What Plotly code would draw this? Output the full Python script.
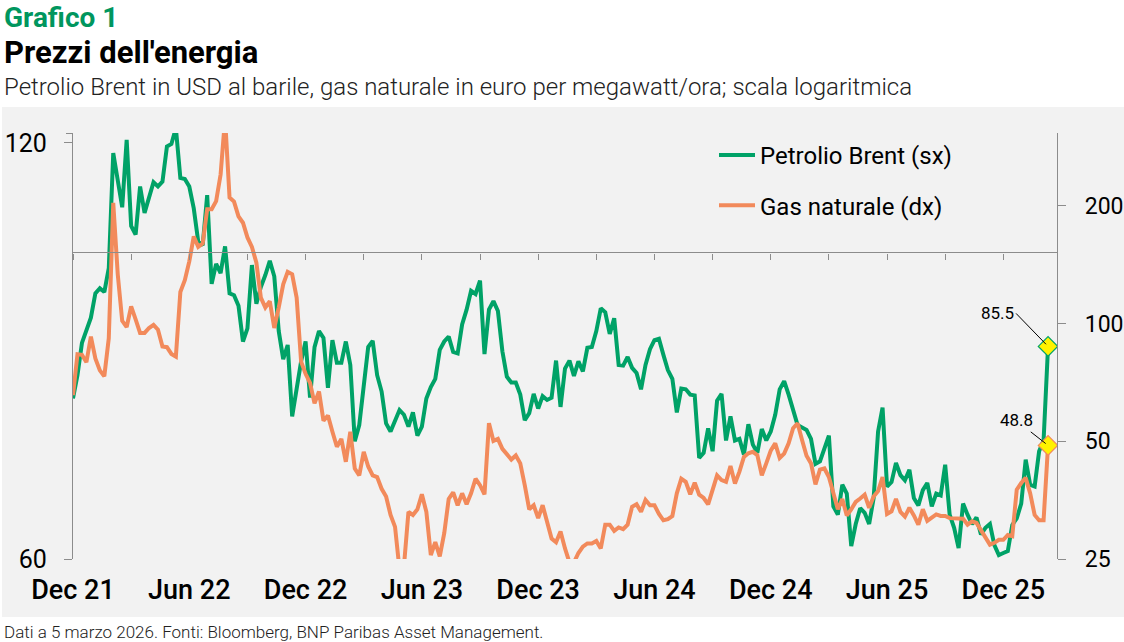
import numpy as np
import pandas as pd
import plotly.graph_objects as go

# ---------------- data (weekly, Thursdays) ----------------
dates = pd.date_range("2021-12-30", periods=219, freq="7D")

brent = [
    78.4, 81.5, 86.0, 88.0, 89.7, 93.4, 94.2, 93.6, 97.4, 118.0,
    112.2, 107.8, 120.6, 104.5, 103.0, 111.6, 106.8, 109.6, 112.4, 111.6,
    112.5, 119.3, 119.8, 123.0, 113.2, 113.0, 111.6, 107.6, 101.8, 101.2,
    110.0, 94.9, 98.1, 96.6, 101.0, 93.4, 93.1, 91.5, 86.2, 88.1,
    97.9, 91.8, 94.4, 96.3, 98.6, 96.1, 87.7, 83.7, 85.7, 76.1,
    79.7, 83.4, 86.2, 78.5, 85.4, 87.7, 86.7, 79.8, 86.4, 83.2,
    83.2, 86.2, 82.9, 73.0, 75.0, 80.6, 85.4, 86.3, 81.5, 79.3,
    75.2, 74.2, 75.4, 76.9, 76.3, 74.8, 76.6, 73.7, 74.8, 78.4,
    79.9, 81.0, 85.0, 86.2, 86.9, 84.7, 84.5, 88.7, 90.9, 93.8,
    93.3, 95.4, 84.4, 90.9, 92.2, 90.7, 84.8, 81.3, 80.5, 80.5,
    78.9, 75.6, 76.5, 79.0, 77.1, 78.7, 78.2, 78.5, 83.5, 77.3,
    82.4, 83.5, 81.4, 83.4, 82.0, 85.3, 85.4, 87.7, 91.1, 90.5,
    87.3, 89.6, 82.9, 82.8, 84.0, 82.5, 81.8, 79.6, 82.9, 85.1,
    86.4, 86.6, 84.3, 82.2, 81.0, 76.6, 79.7, 79.6, 78.9, 78.8,
    71.0, 71.6, 74.6, 71.8, 78.1, 79.0, 73.1, 76.1, 73.1, 73.3,
    71.4, 75.1, 72.6, 71.6, 74.5, 73.1, 74.2, 76.3, 79.6, 80.7,
    78.9, 77.0, 75.0, 74.7, 74.4, 73.3, 70.3, 70.6, 72.0, 73.7,
    65.5, 64.6, 67.9, 66.9, 61.3, 63.6, 65.3, 64.8, 63.6, 66.4,
    74.2, 77.2, 67.7, 68.2, 70.4, 69.0, 68.4, 69.6, 66.4, 65.6,
    67.3, 68.1, 65.5, 66.9, 66.7, 70.2, 64.6, 63.2, 61.1, 65.8,
    64.6, 63.6, 64.3, 62.5, 63.2, 63.6, 61.4, 60.4, 60.6, 60.8,
    63.5, 64.2, 65.8, 70.8, 67.9, 67.7, 71.8, 73.1, 85.5,
]

gas = [
    65.6, 83.5, 83.2, 79.6, 92.6, 81.4, 75.9, 73.3, 91.7, 203.6,
    133.8, 101.6, 98.0, 110.6, 102.5, 94.6, 94.6, 97.4, 99.2, 96.4,
    87.4, 87.0, 83.6, 82.3, 120.4, 129.0, 144.2, 167.0, 157.0, 160.3,
    196.0, 196.0, 205.5, 240.5, 335.0, 209.9, 205.0, 188.0, 181.0, 166.0,
    157.0, 143.0, 116.5, 109.9, 114.0, 97.4, 110.0, 126.0, 135.5, 133.6,
    116.5, 79.9, 74.4, 70.5, 62.5, 67.0, 56.4, 58.2, 52.9, 48.4,
    50.7, 44.3, 52.9, 42.6, 40.9, 47.0, 43.1, 40.9, 40.5, 37.8,
    36.1, 32.4, 30.2, 23.5, 24.0, 33.0, 32.4, 33.5, 36.6, 33.0,
    25.6, 27.6, 25.4, 29.1, 35.6, 37.0, 34.3, 36.8, 34.5, 36.8,
    40.1, 38.6, 36.6, 55.6, 50.1, 50.7, 47.8, 46.4, 44.9, 46.0,
    43.9, 38.6, 33.5, 34.3, 31.8, 34.3, 31.2, 28.2, 27.6, 29.4,
    26.6, 24.5, 24.5, 25.9, 26.9, 27.4, 27.4, 27.8, 26.6, 30.6,
    30.6, 29.5, 30.1, 29.8, 30.6, 34.0, 34.5, 33.0, 35.4, 34.3,
    34.3, 32.6, 31.4, 31.6, 32.2, 36.8, 40.1, 39.4, 36.6, 39.2,
    36.5, 35.8, 34.5, 37.6, 40.9, 39.8, 39.4, 43.2, 39.0, 41.8,
    45.6, 46.6, 47.0, 46.1, 40.9, 43.9, 47.3, 49.4, 45.3, 46.5,
    49.4, 54.0, 55.6, 50.4, 45.9, 43.9, 38.8, 42.3, 42.6, 40.5,
    36.8, 33.5, 35.6, 32.3, 33.5, 35.0, 35.7, 36.5, 33.8, 36.1,
    37.3, 40.5, 32.6, 33.1, 35.6, 33.0, 32.1, 33.8, 32.3, 30.6,
    33.5, 31.3, 31.9, 32.5, 32.2, 32.2, 31.8, 31.8, 31.8, 31.7,
    30.6, 31.2, 30.9, 29.7, 28.6, 27.2, 27.5, 28.0, 28.0, 28.8,
    28.6, 37.6, 39.1, 40.3, 36.8, 32.4, 31.4, 31.4, 48.8,
]

left_ticks = [60, 120]
right_ticks = [25, 50, 100, 200]
left_range = [60, 122]
right_range = [25, 307]
cross_value = 100  # horizontal axis crosses left axis here

title_kicker = "Grafico 1"
title_main = "Prezzi dell'energia"
subtitle = "Petrolio Brent in USD al barile, gas naturale in euro per megawatt/ora; scala logaritmica"
footnote = "Dati a 5 marzo 2026. Fonti: Bloomberg, BNP Paribas Asset Management."

GREEN = "#00A267"
ORANGE = "#F28A5B"
AXIS = "#8C8C8C"
BG = "#F2F2F2"
FONT = "Roboto"

# ---------------- figure ----------------
W, H = 1124, 642
ML, MR, MT, MB = 73, 67, 133, 83
PW, PH = W - ML - MR, H - MT - MB

def px(x):  # pixel x -> paper
    return (x - ML) / PW

def py(y):  # pixel y -> paper
    return (H - MB - y) / PH

fig = go.Figure()

fig.add_trace(go.Scatter(
    x=dates, y=brent, name="Petrolio Brent (sx)", mode="lines",
    line=dict(color=GREEN, width=4), yaxis="y", legendgroup="a",
))
fig.add_trace(go.Scatter(
    x=dates, y=gas, name="Gas naturale (dx)", mode="lines",
    line=dict(color=ORANGE, width=4), yaxis="y2", legendgroup="b",
))
# end markers
fig.add_trace(go.Scatter(
    x=[dates[-1]], y=[brent[-1]], mode="markers", yaxis="y", showlegend=False,
    marker=dict(symbol="diamond", size=15, color="#FFF200", line=dict(color=GREEN, width=1.2)),
))
fig.add_trace(go.Scatter(
    x=[dates[-1]], y=[gas[-1]], mode="markers", yaxis="y2", showlegend=False,
    marker=dict(symbol="diamond", size=15, color="#FFF200", line=dict(color=ORANGE, width=1.2)),
))
# carrier for the crossing date axis
fig.add_trace(go.Scatter(
    x=[dates[0]], y=[None], xaxis="x2", yaxis="y", showlegend=False,
    hoverinfo="skip", mode="lines",
))

xr = [pd.Timestamp("2021-12-30"), pd.Timestamp("2026-03-19")]
lr = [np.log10(v) for v in left_range]
rr = [np.log10(v) for v in right_range]
cross_pos = (np.log10(cross_value) - lr[0]) / (lr[1] - lr[0])

fig.update_layout(
    width=W, height=H,
    margin=dict(l=ML, r=MR, t=MT, b=MB, autoexpand=False),
    paper_bgcolor="white", plot_bgcolor=BG,
    font=dict(family=FONT, color="black"),
    showlegend=True,
    legend=dict(
        x=px(714), y=py(133), xanchor="left", yanchor="top",
        bgcolor="rgba(0,0,0,0)", font=dict(size=24, family=FONT),
        tracegroupgap=16, itemwidth=36,
    ),
    xaxis=dict(
        type="date", range=xr, showgrid=False, zeroline=False, showline=False,
        tickmode="array", tickvals=list(dates[::26]), tickformat="%b %y",
        ticks="", tickfont=dict(size=27, family=FONT, weight=500),
        ticklabelstandoff=12, automargin=False,
    ),
    xaxis2=dict(
        type="date", range=xr, overlaying="x", anchor="free", position=cross_pos,
        showgrid=False, zeroline=False, showline=True, linecolor=AXIS, linewidth=1.3,
        tickmode="array", tickvals=list(dates[::13]), ticks="outside", ticklen=6,
        tickcolor=AXIS, tickwidth=1.3, showticklabels=False, automargin=False,
    ),
    yaxis=dict(
        type="log", range=lr, tickmode="array", tickvals=left_ticks,
        ticktext=[str(v) for v in left_ticks],
        showgrid=False, zeroline=False, showline=True, linecolor=AXIS, linewidth=1.3,
        ticks="outside", ticklen=8, tickcolor=AXIS, tickwidth=1.3,
        minor=dict(tickmode="array", tickvals=[left_range[1]], ticks="outside",
                   ticklen=6, tickcolor=AXIS, tickwidth=1.3, showgrid=False),
        tickfont=dict(size=25, family=FONT), ticklabelstandoff=12, automargin=False,
    ),
    yaxis2=dict(
        type="log", range=rr, overlaying="y", side="right", anchor="x",
        tickmode="array", tickvals=right_ticks, ticktext=[str(v) for v in right_ticks],
        showgrid=False, zeroline=False, showline=True, linecolor=AXIS, linewidth=1.3,
        ticks="outside", ticklen=8, tickcolor=AXIS, tickwidth=1.3,
        tickfont=dict(size=23, family=FONT), ticklabelstandoff=14, automargin=False,
    ),
    shapes=[dict(
        type="rect", xref="paper", yref="paper", layer="below",
        x0=px(2), x1=px(W), y0=py(617), y1=py(107),
        fillcolor=BG, line=dict(width=0),
    )],
)

ann = [
    dict(text=f"<b>{title_kicker}</b>", x=px(2), y=py(17), font=dict(size=28, color="#00965E", family=FONT)),
    dict(text=f"<b>{title_main}</b>", x=px(2), y=py(53), font=dict(size=31, color="black", family=FONT)),
    dict(text=subtitle, x=px(2), y=py(87), font=dict(size=24, color="#222222", family=FONT, weight=300)),
    dict(text=footnote, x=px(2), y=py(632), font=dict(size=17, color="#222222", family=FONT, weight=300)),
]
for a in ann:
    a.update(xref="paper", yref="paper", xanchor="left", yanchor="middle", showarrow=False)
    fig.add_annotation(**a)

fig.add_annotation(
    x=dates[-1], y=np.log10(brent[-1]), xref="x", yref="y", text=f"{brent[-1]:.1f}",
    showarrow=True, arrowhead=0, arrowwidth=1, arrowcolor="black", ax=-32, ay=-33,
    xanchor="right", font=dict(size=17, family=FONT, color="black"), standoff=3,
)
fig.add_annotation(
    x=dates[-1], y=np.log10(gas[-1]), xref="x", yref="y2", text=f"{gas[-1]:.1f}",
    showarrow=True, arrowhead=0, arrowwidth=1, arrowcolor="black", ax=-32, ay=-25,
    xanchor="center", font=dict(size=17, family=FONT, color="black"), standoff=3,
)

# page body has a default 8px margin; remove it so the figure sits at the window origin
fig.write_html(
    "out.html",
    config={"displayModeBar": False},
    post_script="document.body.style.margin='0px';",
)
